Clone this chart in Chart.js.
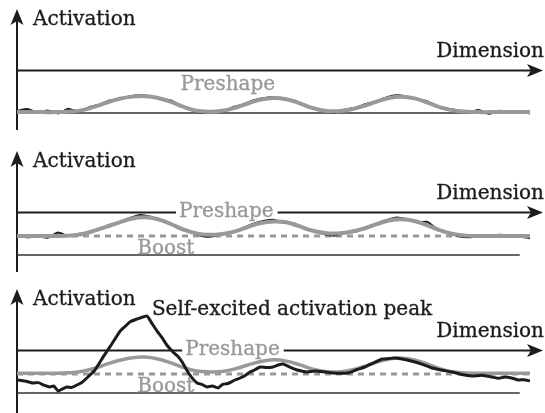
<!DOCTYPE html>
<html>
<head>
<meta charset="utf-8">
<script src="https://cdn.jsdelivr.net/npm/chart.js@4.4.0/dist/chart.umd.min.js"></script>
<style>
  html, body { margin:0; padding:0; background:#fff; }
  #wrap { position:relative; width:545px; height:413px; overflow:hidden; }
  canvas { position:absolute; left:0; }
</style>
</head>
<body>
<div id="wrap">
  <canvas id="p1" width="545" height="142" style="top:0px"></canvas>
  <canvas id="p2" width="545" height="138" style="top:142px"></canvas>
  <canvas id="p3" width="545" height="133" style="top:280px"></canvas>
</div>
<script>
// ---------------- data ----------------
const RESTING = -5;      // resting level (lower line)
const THRESHOLD = 0;     // output threshold (arrow axis "Dimension")
const BOOST = -2.8;      // boosted level (dashed)

const DIM_P = [0,2.5,5,7.5,10,12.5,15,17.5,20,22.5,25,27.5,30,32.5,35,37.5,40,42.5,45,47.5,50,
               52.5,55,57.5,60,62.5,65,67.5,70,72.5,75,77.5,80,82.5,85,87.5,90,92.5,95,97.5,100];

const PRESHAPE_1 = [-4.9,-4.9,-4.9,-4.9,-4.85,-4.7,-4.3,-3.8,-3.35,-3.1,-3.05,-3.25,-3.7,-4.3,-4.75,-4.85,-4.75,-4.4,-3.9,-3.45,-3.25,
                    -3.4,-3.85,-4.4,-4.75,-4.8,-4.6,-4.2,-3.7,-3.25,-3.1,-3.3,-3.8,-4.35,-4.7,-4.85,-4.9,-4.9,-4.9,-4.9,-4.9];
const PRESHAPE_2 = [-2.8,-2.8,-2.8,-2.8,-2.75,-2.6,-2.2,-1.7,-1.2,-0.75,-0.62,-0.85,-1.4,-2.05,-2.5,-2.65,-2.55,-2.25,-1.75,-1.3,-1.1,
                    -1.2,-1.65,-2.15,-2.45,-2.5,-2.3,-1.95,-1.45,-1.0,-0.85,-1.05,-1.55,-2.15,-2.55,-2.75,-2.8,-2.8,-2.8,-2.8,-2.8];
const PRESHAPE_3 = [-2.7,-2.7,-2.7,-2.7,-2.65,-2.5,-2.15,-1.65,-1.2,-0.9,-0.82,-1.05,-1.5,-2.05,-2.45,-2.55,-2.5,-2.2,-1.75,-1.35,-1.15,
                    -1.3,-1.7,-2.2,-2.5,-2.55,-2.35,-1.95,-1.45,-1.05,-0.95,-1.15,-1.65,-2.2,-2.55,-2.68,-2.7,-2.7,-2.7,-2.7,-2.7];

const DIM_A = [0,2,4,6,8,10,12,14,16,18,20,22,24,26,28,30,32,34,36,38,40,42,44,46,48,50,
               52,54,56,58,60,62,64,66,68,70,72,74,76,78,80,82,84,86,88,90,92,94,96,98,100];

const ACTIVATION_1 = [-4.75,-4.55,-4.95,-4.7,-5.05,-4.5,-4.85,-4.35,-4.05,-3.55,-3.35,-3.05,-2.95,-3.05,-3.35,-3.55,-4.2,-4.65,-5.0,-4.85,-4.85,
                      -4.35,-4.05,-3.55,-3.3,-3.15,-3.4,-3.55,-4.1,-4.45,-4.8,-4.95,-4.6,-4.4,-3.95,-3.65,-3.2,-2.95,-3.1,-3.4,-3.65,
                      -4.25,-4.5,-4.7,-4.95,-4.65,-5.1,-4.75,-4.95,-4.8,-5.05];
const ACTIVATION_2 = [-2.7,-2.95,-2.8,-3.0,-2.4,-2.8,-2.55,-2.45,-2.0,-1.5,-1.15,-0.7,-0.35,-0.55,-1.0,-1.45,-2.05,-2.4,-2.8,-2.85,-2.6,
                      -2.4,-1.9,-1.4,-1.05,-0.9,-1.25,-1.35,-1.95,-2.25,-2.6,-2.75,-2.4,-2.3,-1.8,-1.35,-0.95,-0.65,-0.85,-1.2,-1.15,
                      -2.05,-2.45,-2.8,-2.95,-2.75,-2.9,-2.65,-2.75,-2.85,-3.05];

const DIM_A3 = [0.2,1.5,3.1,4.2,5.1,6.4,7.2,8.0,8.8,9.7,10.7,11.7,12.7,13.6,15.2,16.8,18.1,20.1,21.0,22.0,23.4,25.3,26.3,27.3,28.3,
                29.2,30.4,31.3,32.2,33.3,34.2,35.1,36.0,37.0,38.1,39.2,40.1,41.1,42.3,43.5,44.4,45.4,46.4,47.4,48.6,49.9,50.9,51.9,
                53.2,54.6,55.5,56.5,58.2,60.0,62.2,64.5,66.2,67.8,69.5,71.2,72.5,73.7,75.6,77.6,79.2,80.9,82.9,84.8,86.7,88.7,
                90.6,92.6,93.9,95.1,96.4,97.7,98.8,100];
const ACTIVATION_3 = [-3.49,-3.6,-3.84,-3.8,-4.07,-4.3,-4.2,-4.77,-4.55,-4.3,-4.35,-4.07,-3.75,-3.26,-2.33,-0.81,0.35,2.2,2.7,3.26,3.6,3.95,3.1,2.2,1.4,
                      0.58,-0.23,-0.7,-1.4,-2.56,-3.3,-3.84,-4.0,-4.3,-4.2,-4.42,-4.0,-3.9,-3.55,-3.26,-3.0,-2.56,-2.3,-1.98,-2.05,-1.98,-1.75,-1.63,
                      -2.0,-2.33,-2.45,-2.56,-2.45,-2.56,-2.7,-2.67,-2.3,-1.98,-1.5,-1.05,-1.0,-0.93,-1.1,-1.4,-1.7,-2.09,-2.35,-2.56,-2.85,-3.02,
                      -2.95,-3.14,-3.3,-3.14,-3.25,-3.49,-3.45,-3.6];

const TEXT_ACTIVATION = 'Activation';
const TEXT_DIMENSION = 'Dimension';
const TEXT_PRESHAPE = 'Preshape';
const TEXT_BOOST = 'Boost';
const TEXT_PEAK = 'Self-excited activation peak';

// ---------------- style ----------------
const INK = '#1c1c1c';
const GREY = '#999999';
const FONT = '20px "DejaVu Serif"';
const Y_MAX = 7.09;

function arrowHead(ctx, x, y, dx, dy) {
  const L = 16, W = 6.5, N = 4;
  const px = -dy, py = dx;
  ctx.beginPath();
  ctx.moveTo(x, y);
  ctx.lineTo(x - dx*L + px*W, y - dy*L + py*W);
  ctx.lineTo(x - dx*(L-N), y - dy*(L-N));
  ctx.lineTo(x - dx*L - px*W, y - dy*L - py*W);
  ctx.closePath();
  ctx.fill();
}

function text(ctx, s, x, y, color) {
  ctx.fillStyle = color;
  ctx.strokeStyle = color;
  ctx.lineWidth = 0.35;
  ctx.fillText(s, x, y);
  ctx.strokeText(s, x, y);
}

const decor = {
  id: 'decor',
  beforeDatasetsDraw(chart) {
    const o = chart.options.plugins.decor;
    const { ctx, chartArea: a, scales: { x, y } } = chart;
    const ty = Math.round(y.getPixelForValue(THRESHOLD)) + 0.5;
    ctx.save();
    ctx.strokeStyle = INK; ctx.fillStyle = INK; ctx.lineWidth = 2;
    // vertical activation axis
    ctx.beginPath(); ctx.moveTo(a.left, a.bottom); ctx.lineTo(a.left, a.top + 12); ctx.stroke();
    arrowHead(ctx, a.left, a.top, 0, -1);
    // horizontal dimension axis at threshold
    const xEnd = chart.width - 2;
    ctx.beginPath();
    if (o.preshapeOnLine) {
      ctx.font = FONT;
      const cx = x.getPixelForValue(o.preshapeX);
      const w = ctx.measureText(TEXT_PRESHAPE).width;
      ctx.moveTo(a.left, ty); ctx.lineTo(cx - w/2 - 3, ty);
      ctx.moveTo(cx + w/2 + 4, ty); ctx.lineTo(xEnd - 12, ty);
    } else {
      ctx.moveTo(a.left, ty); ctx.lineTo(xEnd - 12, ty);
    }
    ctx.stroke();
    arrowHead(ctx, xEnd, ty, 1, 0);
    ctx.restore();
  },
  afterDatasetsDraw(chart) {
    const o = chart.options.plugins.decor;
    const { ctx, chartArea: a, scales: { x, y } } = chart;
    const ty = y.getPixelForValue(THRESHOLD);
    ctx.save();
    ctx.font = FONT;
    ctx.textBaseline = 'alphabetic';
    ctx.textAlign = 'left';
    text(ctx, TEXT_ACTIVATION, a.left + 16, a.top + 16, INK);
    ctx.textAlign = 'right';
    text(ctx, TEXT_DIMENSION, chart.width - 1, ty - 13, INK);
    ctx.textAlign = 'center';
    const px = x.getPixelForValue(o.preshapeX);
    text(ctx, TEXT_PRESHAPE, px, o.preshapeOnLine ? ty + 5 : ty + 20, GREY);
    if (o.boost) {
      text(ctx, TEXT_BOOST, x.getPixelForValue(o.boostX), y.getPixelForValue(BOOST) + 18, GREY);
    }
    if (o.peak) {
      ctx.textAlign = 'left';
      text(ctx, TEXT_PEAK, x.getPixelForValue(o.peakX), y.getPixelForValue(Math.max(...ACTIVATION_3)) - 1, INK);
    }
    ctx.restore();
  }
};

function makePanel(cfg) {
  const datasets = [];
  datasets.push({ data: [{x:0,y:RESTING},{x:cfg.restEnd,y:RESTING}], borderColor: '#333', borderWidth: 1.5, order: 6 });
  if (cfg.boost) {
    datasets.push({ data: [{x:0,y:BOOST},{x:100,y:BOOST}], borderColor: GREY, borderWidth: 3, borderDash: [6,5], order: 5 });
  }
  datasets.push({ data: DIM_P.map((v,i)=>({x:v, y:cfg.preshape[i]})), borderColor: GREY, borderWidth: cfg.preWidth,
                  tension: 0.4, order: cfg.actOnTop ? 2 : 1, borderCapStyle: 'round' });
  datasets.push({ data: cfg.actX.map((v,i)=>({x:v, y:cfg.act[i]})), borderColor: INK, borderWidth: cfg.actWidth,
                  tension: 0.15, order: cfg.actOnTop ? 1 : 2, borderJoinStyle: 'round' });
  datasets.forEach(d => { d.pointRadius = 0; d.fill = false; });

  return new Chart(document.getElementById(cfg.id), {
    type: 'line',
    data: { datasets },
    options: {
      responsive: false, animation: false, events: [],
      layout: { padding: { left: 17, right: 15, top: 9, bottom: cfg.padBottom } },
      scales: {
        x: { type: 'linear', min: 0, max: 100, display: false },
        y: { type: 'linear', min: cfg.yMin, max: Y_MAX, display: false }
      },
      plugins: {
        legend: { display: false }, tooltip: { enabled: false },
        decor: { preshapeOnLine: cfg.preshapeOnLine, preshapeX: cfg.preshapeX, boost: cfg.boost, boostX: 29, peak: cfg.peak, peakX: 26.3 }
      }
    },
    plugins: [decor]
  });
}

makePanel({ id:'p1', padBottom:12, yMin:-6.98, preshape:PRESHAPE_1, act:ACTIVATION_1, actX:DIM_A, actWidth:2, preWidth:4,
            actOnTop:false, boost:false, restEnd:100, preshapeOnLine:false, preshapeX:41.1, peak:false });
makePanel({ id:'p2', padBottom:8, yMin:-6.98, preshape:PRESHAPE_2, act:ACTIVATION_2, actX:DIM_A, actWidth:2, preWidth:4,
            actOnTop:false, boost:true, restEnd:98, preshapeOnLine:true, preshapeX:40.8, peak:false });
makePanel({ id:'p3', padBottom:0, yMin:-7.33, preshape:PRESHAPE_3, act:ACTIVATION_3, actX:DIM_A3, actWidth:3, preWidth:3.5,
            actOnTop:true, boost:true, restEnd:98, preshapeOnLine:true, preshapeX:42, peak:true });
</script>
</body>
</html>
